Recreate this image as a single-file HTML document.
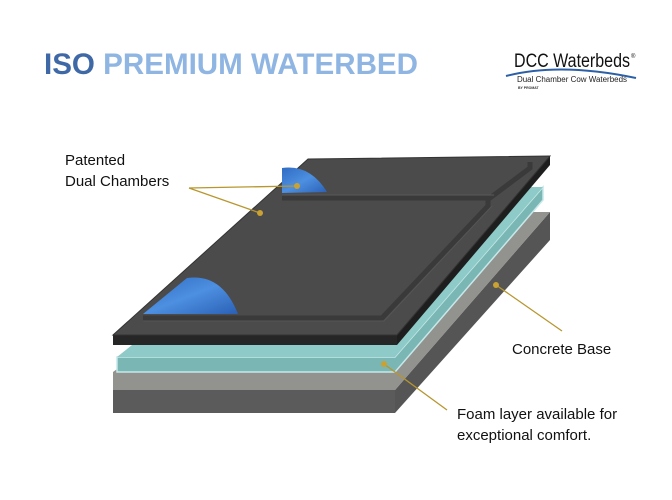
<!DOCTYPE html>
<html><head><meta charset="utf-8"><style>
body{margin:0;background:#fff;width:672px;height:495px;overflow:hidden;font-family:"Liberation Sans",sans-serif;}
</style></head><body>
<svg width="672" height="495" viewBox="0 0 672 495" xmlns="http://www.w3.org/2000/svg">
<defs>
<linearGradient id="bl" x1="0" y1="0" x2="1" y2="1"><stop offset="0" stop-color="#2f6cc4"/><stop offset="0.5" stop-color="#4d8fe0"/><stop offset="1" stop-color="#2a60b5"/></linearGradient>
</defs>
<text x="44" y="74" font-family="Liberation Sans, sans-serif" font-weight="bold" font-size="29.5" fill="#8fb5e2" textLength="374" lengthAdjust="spacingAndGlyphs"><tspan fill="#3f69a6">ISO</tspan> PREMIUM WATERBED</text>
<text x="514" y="67" font-family="Liberation Sans, sans-serif" font-size="19" fill="#111" textLength="116" lengthAdjust="spacingAndGlyphs">DCC Waterbeds</text>
<text x="631" y="58" font-size="6" fill="#111">®</text>
<path d="M506 76 Q560 62 636 78" stroke="#2b5fa6" stroke-width="2" fill="none"/>
<text x="517" y="82" font-size="8" fill="#222" textLength="110" lengthAdjust="spacingAndGlyphs">Dual Chamber Cow Waterbeds</text>
<text x="518" y="89" font-size="3.5" font-weight="bold" fill="#333">BY PROMAT</text>
<!-- concrete -->
<polygon points="113,390 395,390 395,413 113,413" fill="#5b5b5b"/>
<polygon points="395,390 550,212 550,240 395,413" fill="#555555"/>
<polygon points="113,390 395,390 550,212 330,212 113,372" fill="#92928f"/>
<!-- foam -->
<polygon points="117,357 395,357 543,187 543,200 395,372 117,372" fill="#7ab6b3" stroke="#c6e8ea" stroke-width="1.5"/>
<polygon points="117,357 395,357 543,187 330,187" fill="#8ecbc8"/>
<!-- mattress -->
<polygon points="113,335 397,335 397,345 113,345" fill="#262626"/>
<polygon points="397,335 550,156 550,165 397,345" fill="#1e1e1e"/>
<polygon points="308,159 550,156 397,335 113,335" fill="#4b4b4b" stroke="#333" stroke-width="1"/>
<path d="M282,193 L282,168 Q310,164 327,192 Z" fill="url(#bl)"/>
<path d="M143,314 L187,278 Q222,273 238,314 Z" fill="url(#bl)"/>
<path d="M282,198 L490,198 L530,168 L530,162" stroke="#3a3a3a" stroke-width="5" fill="none"/>
<path d="M143,318 L382,318 L488,206 L488,200" stroke="#3a3a3a" stroke-width="5" fill="none"/>
<path d="M143,321 L384,321 L492,206" stroke="#555" stroke-width="1" fill="none"/>
<path d="M282,195 L494,195" stroke="#5a5a5a" stroke-width="1" fill="none"/>
<!-- leaders -->
<g stroke="#b8962e" stroke-width="1.3" fill="#c9a233">
<line x1="189" y1="188" x2="297" y2="186"/><line x1="189" y1="188" x2="260" y2="213"/>
<circle cx="297" cy="186" r="3" stroke="none"/><circle cx="260" cy="213" r="3" stroke="none"/>
<line x1="496" y1="285" x2="562" y2="331"/><circle cx="496" cy="285" r="3" stroke="none"/>
<line x1="384" y1="364" x2="447" y2="410"/><circle cx="384" cy="364" r="3" stroke="none"/>
</g>
<g font-size="15" fill="#111">
<text x="65" y="165">Patented</text>
<text x="65" y="186">Dual Chambers</text>
<text x="512" y="354">Concrete Base</text>
<text x="457" y="419">Foam layer available for</text>
<text x="457" y="440">exceptional comfort.</text>
</g>
</svg>
</body></html>
